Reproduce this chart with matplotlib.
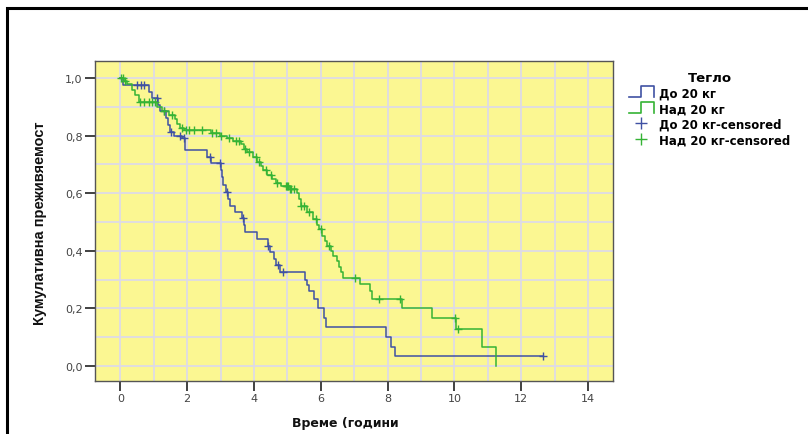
import numpy as np
import matplotlib
matplotlib.use("Agg")
import matplotlib.pyplot as plt
from matplotlib.lines import Line2D
from matplotlib.patches import Rectangle

# Kaplan-Meier steps (time in years, survival after the event)
blue_t = [0.0, 0.08, 0.85, 0.95, 1.12, 1.2, 1.38, 1.42, 1.5, 1.6, 1.85, 1.93, 2.6, 2.7,
          3.0, 3.03, 3.08, 3.15, 3.23, 3.28, 3.42, 3.65, 3.7, 3.74, 4.1, 4.42, 4.47,
          4.6, 4.65, 4.78, 5.53, 5.6, 5.66, 5.8, 5.93, 6.1, 6.16, 7.95, 8.1, 8.22]
blue_s = [1.0, 0.977, 0.953, 0.93, 0.907, 0.884, 0.86, 0.837, 0.814, 0.80, 0.79, 0.75,
          0.727, 0.704, 0.68, 0.655, 0.63, 0.606, 0.58, 0.556, 0.536, 0.513, 0.49,
          0.465, 0.44, 0.418, 0.395, 0.37, 0.35, 0.325, 0.30, 0.28, 0.26, 0.233, 0.20,
          0.168, 0.135, 0.10, 0.068, 0.036]
blue_end = 12.66
blue_cens = [0.5, 0.62, 0.72, 1.1, 1.3, 1.52, 1.78, 1.9, 2.68, 2.98, 3.2, 3.68, 4.43,
             4.73, 4.86, 12.66]

green_t = [0.0, 0.1, 0.2, 0.35, 0.45, 0.55, 1.1, 1.24, 1.45, 1.63, 1.69, 1.78, 1.9,
           2.7, 2.98, 3.2, 3.38, 3.6, 3.7, 3.78, 3.98, 4.1, 4.2, 4.28, 4.4, 4.53, 4.65,
           4.8, 5.08, 5.28, 5.35, 5.4, 5.58, 5.78, 5.88, 5.95, 6.03, 6.12, 6.2, 6.3,
           6.38, 6.48, 6.55, 6.62, 6.68, 7.17, 7.47, 7.52, 8.42, 9.32, 10.05, 10.82,
           11.25]
green_s = [1.0, 0.99, 0.979, 0.96, 0.94, 0.917, 0.90, 0.886, 0.87, 0.858, 0.84, 0.828,
           0.82, 0.81, 0.80, 0.79, 0.78, 0.77, 0.755, 0.742, 0.725, 0.71, 0.695, 0.68,
           0.665, 0.65, 0.635, 0.626, 0.615, 0.60, 0.58, 0.557, 0.534, 0.51, 0.49,
           0.475, 0.452, 0.435, 0.418, 0.40, 0.383, 0.365, 0.345, 0.325, 0.305, 0.285,
           0.262, 0.233, 0.20, 0.166, 0.128, 0.065, 0.0]
green_cens = [0.02, 0.08, 0.15, 0.6, 0.7, 0.85, 0.95, 1.05, 1.3, 1.55, 1.85, 1.95, 2.05,
              2.2, 2.45, 2.75, 2.85, 3.0, 3.25, 3.45, 3.55, 3.72, 3.85, 4.05, 4.15, 4.35,
              4.5, 4.7, 4.95, 5.0, 5.03, 5.08, 5.12, 5.2, 5.42, 5.5, 5.65, 5.85, 6.0,
              6.25, 7.02, 7.75, 8.38, 10.02, 10.1]

labels = ["До 20 кг", "Над 20 кг", "До 20 кг-censored", "Над 20 кг-censored"]
x_ticks = [0, 2, 4, 6, 8, 10, 12, 14]
y_ticks = [0.0, 0.2, 0.4, 0.6, 0.8, 1.0]

BLUE = "#3f51a3"
GREEN = "#35b335"


def surv_at(times, surv, pts):
    idx = np.searchsorted(times, pts, side="right") - 1
    return np.asarray(surv)[idx]


class StepHandler:
    """legend handle drawn as a small step, like the SPSS one"""
    def __init__(self, color):
        self.color = color

    def legend_artist(self, legend, orig_handle, fontsize, handlebox):
        x0, y0 = -handlebox.xdescent, -handlebox.ydescent
        w, h = handlebox.width, handlebox.height
        xm = x0 + w * 0.5
        ln = Line2D([x0, xm, xm, x0 + w, x0 + w],
                    [y0, y0, y0 + h + 1, y0 + h + 1, y0],
                    color=self.color, lw=1.2, transform=handlebox.get_transform())
        handlebox.add_artist(ln)
        return ln


fig = plt.figure(figsize=(8.08, 4.35), dpi=100)
ax = fig.add_axes([95 / 808, 1 - 381.5 / 435, 518 / 808, 319.5 / 435])
ax.set_facecolor("#fbf792")

ax.set_xlim(-0.76, 14.75)
ax.set_ylim(-0.05, 1.059)
ax.set_xticks(np.arange(0, 15, 1), minor=True)
ax.set_yticks(np.arange(0, 1.05, 0.1), minor=True)
ax.grid(which="minor", color="#dedbe6", lw=1.3)
ax.grid(which="major", color="#dedbe6", lw=1.3)
ax.set_axisbelow(True)
ax.tick_params(which="minor", length=0)

bt = blue_t + [blue_end]
bs = blue_s + [blue_s[-1]]
ax.step(bt, bs, where="post", color=BLUE, lw=1.1)
ax.step(green_t, green_s, where="post", color=GREEN, lw=1.1)
ax.plot(blue_cens, surv_at(blue_t, blue_s, blue_cens), "+", color=BLUE, ms=6, mew=1)
ax.plot(green_cens, surv_at(green_t, green_s, green_cens), "+", color=GREEN, ms=6, mew=1)

ax.set_xticks(x_ticks)
ax.set_xticklabels([str(v) for v in x_ticks])
ax.set_yticks(y_ticks)
ax.set_yticklabels([("%.1f" % v).replace(".", ",") for v in y_ticks])
ax.tick_params(which="major", direction="out", length=7, width=1.3, color="#333333",
               labelsize=8, labelcolor="#444444", pad=2)

for sp in ax.spines.values():
    sp.set_color("#555555")
    sp.set_linewidth(1)

ax.set_xlabel("Време (години", fontsize=9, fontweight="bold", color="#111111")
ax.xaxis.set_label_coords(0.483, -0.11)
ax.set_ylabel("Кумулативна преживяемост", fontsize=10.5, fontweight="bold",
              family=["Liberation Sans Narrow", "Liberation Sans", "DejaVu Sans"],
              color="#111111")
ax.yaxis.set_label_coords(-0.092, 0.496)

h_blue = Line2D([], [], color=BLUE)
h_green = Line2D([], [], color=GREEN)
h_bc = Line2D([], [], color=BLUE, marker="+", ls="none", ms=8, mew=1)
h_gc = Line2D([], [], color=GREEN, marker="+", ls="none", ms=8, mew=1)
leg = fig.legend([h_blue, h_green, h_bc, h_gc], labels, loc="upper left",
                 bbox_to_anchor=(623 / 808, 1 - 66 / 435), frameon=False,
                 title="Тегло", prop={"size": 8.5, "weight": "bold"},
                 title_fontproperties={"size": 9.5, "weight": "bold"},
                 handlelength=2.1, handleheight=0.9, handletextpad=0.45,
                 labelspacing=0.22, borderpad=0,
                 handler_map={h_blue: StepHandler(BLUE), h_green: StepHandler(GREEN)})

# black frame around the whole chart (right and bottom edges lie outside the image)
fig.add_artist(Rectangle((7 / 808, -0.2), 1.3, 1.2 - 9 / 435, fill=False,
                         lw=2.2, ec="black", transform=fig.transFigure))

fig.savefig("out.png", dpi=100)
